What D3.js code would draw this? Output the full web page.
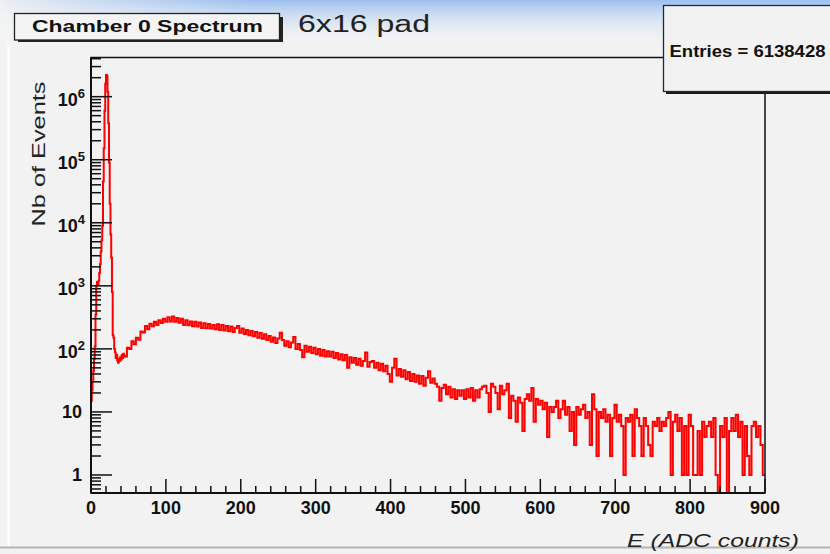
<!DOCTYPE html>
<html>
<head>
<meta charset="utf-8">
<script src="https://cdn.jsdelivr.net/npm/d3@7"></script>
<style>
  html, body { margin: 0; padding: 0; background: #f2f2f2; }
  svg { display: block; }
  text { font-family: "Liberation Sans", Arial, Helvetica, sans-serif; }
</style>
</head>
<body>
<svg id="chart" width="830" height="554"></svg>
<script>
// ---------------- data ----------------
const chartTitle = "Chamber 0 Spectrum";
const subTitle = "6x16 pad";
const statsText = "Entries = 6138428";
const xTitle = "E (ADC counts)";
const yTitle = "Nb of Events";

const xDomain = [0, 900];
const yDomain = [0.518, 4.18e6];

const xTickValues = [0, 100, 200, 300, 400, 500, 600, 700, 800, 900];
const yTickValues = [1, 10, 100, 1e3, 1e4, 1e5, 1e6];
const yTickLabels = [["1", ""], ["10", ""], ["10", "2"], ["10", "3"], ["10", "4"], ["10", "5"], ["10", "6"]];

// pedestal region: 1 ADC per bin, starting at 0
const peakStart = 0;
const peakBinWidth = 1;
const peakCounts = [
  15, 22, 30, 45, 70, 110, 350, 1000, 1150, 1050,
  1200, 1600, 2200, 3500, 5300, 9000, 45000, 150000, 600000, 1600000,
  2200000, 2150000, 1200000, 380000, 90000, 20000, 6500, 2800, 800, 165,
  150, 100, 88, 72, 80, 66, 60, 70, 64, 74,
  68, 80, 72, 84, 78
];

// signal region: 3 ADC per bin, starting at 45
const tailStart = 45;
const tailBinWidth = 3;
const tailCounts = [
  76, 104, 100, 132, 118, 150, 140, 188, 182, 230,
  205, 250, 228, 270, 240, 285, 258, 300, 270, 318,
  272, 325, 270, 310, 260, 300, 240, 285, 236, 272,
  228, 270, 226, 262, 215, 255, 212, 248, 210, 240,
  205, 245, 200, 240, 196, 230, 190, 226, 186, 215,
  230, 180, 210, 172, 200, 165, 192, 158, 186, 150,
  178, 145, 170, 138, 160, 130, 152, 124, 146, 180,
  138, 112, 132, 106, 126, 155, 100, 120, 96, 74,
  112, 90, 108, 86, 104, 82, 100, 78, 96, 76,
  92, 76, 90, 72, 86, 68, 82, 66, 80, 50,
  74, 60, 72, 56, 70, 54, 64, 88, 52, 62,
  64, 50, 60, 46, 58, 44, 54, 40, 30, 50,
  70, 38, 48, 36, 46, 33, 43, 31, 40, 30,
  38, 28, 37, 26, 35, 44, 29, 34, 28, 25,
  15, 24, 27, 19, 25, 17, 23, 16, 22, 18,
  22, 16, 23, 17, 24, 15, 22, 17, 23, 25,
  26, 20, 10, 28, 25, 20, 11, 26, 19, 22,
  28, 8, 18, 15, 7, 17, 14, 5, 16, 19,
  15, 24, 7, 16, 13, 15, 11, 14, 4, 12,
  10, 12, 15, 8, 11, 15, 9, 12, 5, 10,
  3, 12, 9, 11, 13, 8, 10, 3, 19, 11,
  2, 10, 8, 11, 7, 9, 2, 8, 13, 7,
  9, 6, 1, 8, 7, 9, 2, 11, 8, 6,
  2, 8, 6, 3, 2, 7, 6, 8, 5, 7,
  6, 8, 10, 1, 7, 9, 5, 8, 1, 6,
  1, 9, 6, 1, 1, 5, 1, 7, 4, 6,
  7, 4, 8, 1, 0, 6, 4, 8, 0, 5,
  8, 5, 9, 4, 7, 1, 6, 2, 1, 6,
  7, 4, 6, 3, 1
];

// ---------------- layout ----------------
const W = 830, H = 554;
const frame = { left: 91, right: 765, top: 57.5, bottom: 493 };

const svg = d3.select("#chart");

const defs = svg.append("defs");
const gV = defs.append("linearGradient").attr("id", "topGlow")
  .attr("x1", 0).attr("y1", 0).attr("x2", 0).attr("y2", 1);
gV.append("stop").attr("offset", 0).attr("stop-color", "#8db6ee").attr("stop-opacity", 0.85);
gV.append("stop").attr("offset", 0.45).attr("stop-color", "#b9d2f2").attr("stop-opacity", 0.45);
gV.append("stop").attr("offset", 1).attr("stop-color", "#f2f2f2").attr("stop-opacity", 0);
const gH = defs.append("linearGradient").attr("id", "leftFade")
  .attr("x1", 0).attr("y1", 0).attr("x2", 1).attr("y2", 0);
gH.append("stop").attr("offset", 0).attr("stop-color", "#f4f4f4").attr("stop-opacity", 0.9);
gH.append("stop").attr("offset", 0.12).attr("stop-color", "#f4f4f4").attr("stop-opacity", 0.5);
gH.append("stop").attr("offset", 0.3).attr("stop-color", "#f4f4f4").attr("stop-opacity", 0);

defs.append("clipPath").attr("id", "frameClip").append("rect")
  .attr("x", frame.left).attr("y", frame.top)
  .attr("width", frame.right - frame.left).attr("height", frame.bottom - frame.top);

// canvas background
svg.append("rect").attr("width", W).attr("height", H).attr("fill", "#f2f2f2");
// left white edge & bottom grey line
svg.append("line").attr("x1", 8.5).attr("x2", 8.5).attr("y1", 40).attr("y2", 546)
  .attr("stroke", "#ffffff").attr("stroke-width", 2);
svg.append("line").attr("x1", 0).attr("x2", W).attr("y1", 547.5).attr("y2", 547.5)
  .attr("stroke", "#b4b4b4").attr("stroke-width", 2);

// scales
const x = d3.scaleLinear().domain(xDomain).range([frame.left, frame.right]);
const y = d3.scaleLog().domain(yDomain).range([frame.bottom, frame.top]);

// build histogram bins from the arrays
const bins = [];
peakCounts.forEach((c, i) => bins.push({ x0: peakStart + i * peakBinWidth, v: c }));
tailCounts.forEach((c, i) => bins.push({ x0: tailStart + i * tailBinWidth, v: c }));
const pts = bins.map(b => [b.x0, b.v]);
pts.push([xDomain[1], tailCounts[tailCounts.length - 1]]);

const line = d3.line()
  .x(d => x(d[0]))
  .y(d => y(Math.max(d[1], yDomain[0])))
  .curve(d3.curveStepAfter);

svg.append("path")
  .attr("clip-path", "url(#frameClip)")
  .attr("d", line(pts))
  .attr("fill", "none")
  .attr("stroke", "#ff0000")
  .attr("stroke-width", 2)
  .attr("stroke-linejoin", "miter");

// frame
svg.append("rect")
  .attr("x", frame.left).attr("y", frame.top)
  .attr("width", frame.right - frame.left).attr("height", frame.bottom - frame.top)
  .attr("fill", "none").attr("stroke", "#111").attr("stroke-width", 1.5);

// x axis ticks
const xMinor = d3.range(xDomain[0], xDomain[1] + 1, 20);
svg.append("g").selectAll("line").data(xMinor).join("line")
  .attr("x1", d => x(d)).attr("x2", d => x(d))
  .attr("y1", frame.bottom).attr("y2", d => frame.bottom - (d % 100 === 0 ? 14 : 7))
  .attr("stroke", "#111").attr("stroke-width", 1.5);
svg.append("g").selectAll("text").data(xTickValues).join("text")
  .attr("x", d => x(d)).attr("y", 513.5)
  .attr("text-anchor", "middle")
  .attr("font-size", 18).attr("font-weight", "bold").attr("fill", "#111")
  .text(d => d);
svg.append("line").attr("x1", frame.left).attr("x2", frame.right)
  .attr("y1", frame.bottom).attr("y2", frame.bottom)
  .attr("stroke", "#111").attr("stroke-width", 2);
svg.append("line").attr("x1", frame.left).attr("x2", frame.left)
  .attr("y1", frame.top).attr("y2", frame.bottom)
  .attr("stroke", "#111").attr("stroke-width", 2);

// y axis ticks (log)
const yMinor = [];
for (let e = -1; e <= 6; e++) {
  for (let m = 2; m <= 9; m++) {
    const v = m * Math.pow(10, e);
    if (v >= yDomain[0] && v <= yDomain[1]) yMinor.push(v);
  }
}
svg.append("g").selectAll("line").data(yMinor).join("line")
  .attr("x1", frame.left).attr("x2", frame.left + 10)
  .attr("y1", d => y(d)).attr("y2", d => y(d))
  .attr("stroke", "#111").attr("stroke-width", 1.5);
svg.append("g").selectAll("line").data(yTickValues).join("line")
  .attr("x1", frame.left).attr("x2", frame.left + 21)
  .attr("y1", d => y(d)).attr("y2", d => y(d))
  .attr("stroke", "#111").attr("stroke-width", 1.5);

svg.append("g").selectAll("text").data(yTickValues).join("text")
  .attr("text-anchor", "end")
  .attr("font-size", 18).attr("font-weight", "bold").attr("fill", "#111")
  .each(function (d, i) {
    const t = d3.select(this);
    const lab = yTickLabels[i];
    if (lab[1] === "") {
      t.attr("x", 82).attr("y", y(d) + 6.5).text(lab[0]);
    } else {
      t.attr("x", 85).attr("y", y(d) + 9.5);
      t.append("tspan").text(lab[0]);
      t.append("tspan").attr("font-size", 13).attr("dy", -8).text(lab[1]);
    }
  });

// axis titles
svg.append("text")
  .attr("transform", "translate(45,226.5) rotate(-90)")
  .attr("x", 0).attr("y", 0)
  .attr("font-size", 18).attr("fill", "#222")
  .attr("textLength", 145).attr("lengthAdjust", "spacingAndGlyphs")
  .text(yTitle);

svg.append("text")
  .attr("x", 627).attr("y", 546.5)
  .attr("font-size", 18).attr("font-style", "italic").attr("fill", "#222")
  .attr("textLength", 172).attr("lengthAdjust", "spacingAndGlyphs")
  .text(xTitle);

// top glow overlay
svg.append("rect").attr("x", 0).attr("y", 0).attr("width", W).attr("height", 45)
  .attr("fill", "url(#topGlow)");
svg.append("rect").attr("x", 0).attr("y", 0).attr("width", W).attr("height", 45)
  .attr("fill", "url(#leftFade)");

// stats box
svg.append("rect").attr("x", 666).attr("y", 9).attr("width", 180).attr("height", 85)
  .attr("fill", "#1a1a1a");
svg.append("rect").attr("x", 663.5).attr("y", 5.5).attr("width", 180).attr("height", 86)
  .attr("fill", "#f2f2f2").attr("stroke", "#1a2a40").attr("stroke-width", 1.3);
svg.append("text")
  .attr("x", 669.5).attr("y", 56.5)
  .attr("font-size", 17).attr("font-weight", "bold").attr("fill", "#111")
  .attr("textLength", 156).attr("lengthAdjust", "spacingAndGlyphs")
  .text(statsText);

// title box
svg.append("rect").attr("x", 18).attr("y", 17).attr("width", 265).attr("height", 25)
  .attr("fill", "#222");
svg.append("rect").attr("x", 14.5).attr("y", 13.5).attr("width", 265).attr("height", 26.5)
  .attr("fill", "#f4f4f4").attr("stroke", "#222").attr("stroke-width", 1.3);
svg.append("text")
  .attr("x", 32).attr("y", 32.3)
  .attr("font-size", 16.5).attr("font-weight", "bold").attr("fill", "#111")
  .attr("textLength", 231).attr("lengthAdjust", "spacingAndGlyphs")
  .text(chartTitle);

svg.append("text")
  .attr("x", 298).attr("y", 31.8)
  .attr("font-size", 23).attr("fill", "#222")
  .attr("textLength", 132).attr("lengthAdjust", "spacingAndGlyphs")
  .text(subTitle);
</script>
</body>
</html>
